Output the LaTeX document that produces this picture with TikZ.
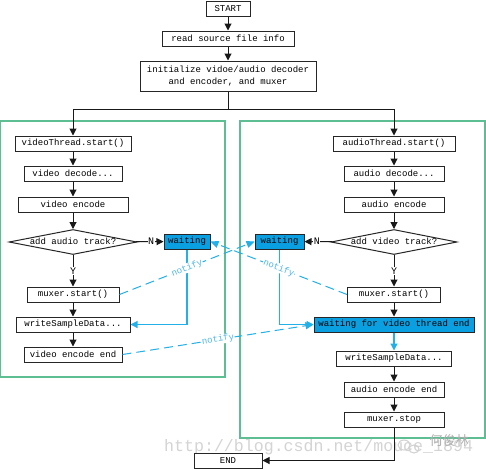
\documentclass[tikz,border=0pt]{standalone}
\usepackage{fontspec}
\setmainfont{Liberation Serif}
\setmonofont{Liberation Mono}
\newfontfamily\cjkfont{Noto Sans CJK SC}
\usetikzlibrary{arrows.meta,shapes.geometric}
\definecolor{boxblue}{HTML}{0A9FE0}
\definecolor{linkblue}{HTML}{22B0E8}
\definecolor{framegreen}{HTML}{5CBE92}
\definecolor{notifyblue}{HTML}{4FB8E8}
\tikzset{
  x=1pt,y=-1pt,
  lbl/.style={font=\ttfamily\fontsize{9}{12}\selectfont},
  pbox/.style={lbl,draw=black!85,line width=1pt,fill=white,inner sep=0pt,align=center},
  waitbox/.style={pbox,fill=boxblue},
  frm/.style={draw=framegreen,line width=1.2pt},
  flow/.style={draw=black!90,line width=1pt,-{Triangle[length=7pt,width=7pt]}},
  blueflow/.style={draw=linkblue,line width=1.2pt,-{Triangle[length=7pt,width=7pt]}},
  notif/.style={draw=linkblue,line width=1pt,dash pattern=on 9pt off 5pt,-{Triangle[length=8pt,width=7pt]}},
  notifytext/.style={lbl,text=notifyblue,inner sep=0.5pt,fill=white},
  edgetxt/.style={font=\ttfamily\fontsize{10}{12}\selectfont,fill=white,inner sep=0.5pt},
  mark text/.style={text=black!17,font=\ttfamily\fontsize{16.6}{17}\selectfont,inner sep=0pt},
}
\newcommand{\bx}[7][pbox]{\node[#1,minimum width=#5pt-#3pt,minimum height=#6pt-#4pt] (#2) at ({(#3+#5)/2},{(#4+#6)/2}) {#7};}
\begin{document}
\begin{tikzpicture}
\useasboundingbox (0,0) rectangle (486,469);
\fill[white] (0,0) rectangle (486,469);
% frames
\node[frm,minimum width=224.5pt,minimum height=256pt,inner sep=0pt] (lframe) at (112.75,249) {};
\node[frm,minimum width=245pt,minimum height=317pt,inner sep=0pt] (rframe) at (362.5,279.5) {};
% watermark
\node[mark text,anchor=west] (wm) at (164,447.5) {http://blog.csdn.net/mouce\_1894};
\node[text=black!32,font=\cjkfont\fontsize{13}{13}\selectfont,inner sep=0pt] (wm2) at (449,441) {何俊林};
\draw[black!18,line width=1pt] (404,445) ellipse [x radius=6pt,y radius=5pt];
\draw[black!18,line width=1pt] (414,449) ellipse [x radius=5pt,y radius=4pt];
% boxes
\bx{start}{206}{1}{250}{16}{START}
\bx{read}{162}{31}{294}{46}{read source file info}
\bx{init}{140}{61}{316}{91}{initialize vidoe/audio decoder\\and encoder, and muxer}
\coordinate (split) at (228,109);
\bx{vt}{15}{136}{131}{151}{videoThread.start()}
\bx{vd}{24}{166}{122}{181}{video decode...}
\bx{ve}{18}{197}{128}{212}{video encode}
\node[pbox,diamond,aspect=5,minimum width=128pt,minimum height=25pt] (vq) at (73,242) {};
\node[lbl] (vqt) at (73,241) {add audio track?};
\bx[waitbox]{vw}{164}{234}{210}{249}{waiting}
\bx{vm}{27}{287}{119}{302}{muxer.start()}
\bx{vs}{16}{317}{130}{332}{writeSampleData...}
\bx{vend}{24}{347}{122}{362}{video encode end}
\bx{at}{333}{136}{455}{151}{audioThread.start()}
\bx{ad}{344}{166}{444}{181}{audio decode...}
\bx{ae}{344}{197}{444}{212}{audio encode}
\node[pbox,diamond,aspect=5,minimum width=126pt,minimum height=25pt] (aq) at (394,242) {};
\node[lbl] (aqt) at (394,241) {add video track?};
\bx[waitbox]{aw}{255}{234}{304}{249}{waiting}
\bx{am}{347.5}{287}{440.5}{302}{muxer.start()}
\bx[waitbox]{al}{314}{317}{474}{332}{waiting for video thread end}
\bx{as}{336.5}{351}{451.5}{366}{writeSampleData...}
\bx{aend}{344}{382}{444}{397}{audio encode end}
\bx{astop}{344}{412}{444}{427}{muxer.stop}
\bx{end}{194}{453}{262}{468}{END}
% main flow
\draw[flow] (start) -- (read);
\draw[flow] (read) -- (init);
\draw[draw=black!90,line width=1pt] (init) -- (split);
\draw[flow] (split) -| (vt.north);
\draw[flow] (split) -| (at.north);
\draw[flow] (vt) -- (vd);
\draw[flow] (vd) -- (ve);
\draw[flow] (ve) -- (vq);
\draw[flow] (vq) -- node[edgetxt] {Y} (vm);
\draw[flow] (vq) -- node[edgetxt,pos=0.55] {N} (vw);
\draw[flow] (vm) -- (vs);
\draw[flow] (vs) -- (vend);
\draw[flow] (at) -- (ad);
\draw[flow] (ad) -- (ae);
\draw[flow] (ae) -- (aq);
\draw[flow] (aq) -- node[edgetxt] {Y} (am);
\draw[flow] (aq) -- node[edgetxt,pos=0.55] {N} (aw);
\draw[flow] (am) -- (am |- al.north);
\draw[blueflow] (as |- al.south) -- (as);
\draw[flow] (as) -- (aend);
\draw[flow] (aend) -- (astop);
\draw[flow] (astop.south) |- (end.east);
% blue links
\draw[blueflow] (vw) |- (vs);
\draw[blueflow] (aw) |- (al);
\draw[notif] (vm.east) -- node[notifytext,pos=0.5,sloped] {notify} (aw.west);
\draw[notif] (am.west) -- node[notifytext,pos=0.5,sloped] {notify} (vw.east);
\draw[notif] (vend.east) -- node[notifytext,pos=0.5,sloped] {notify} (al.west);
\end{tikzpicture}
\end{document}
